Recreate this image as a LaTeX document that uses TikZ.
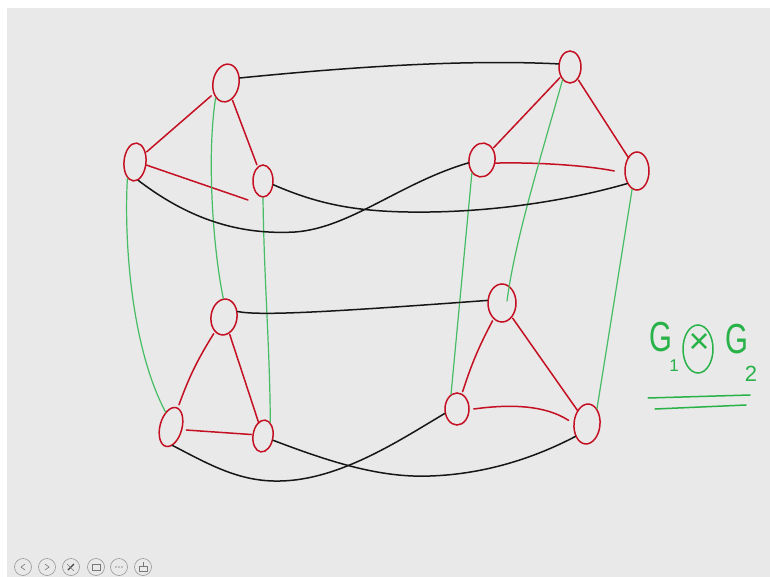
\documentclass[tikz,border=0pt]{standalone}
\usepackage{fontspec}
\setmainfont{Liberation Sans}
\usetikzlibrary{shapes.geometric}

\definecolor{board}{RGB}{233,233,233}
\definecolor{inkred}{RGB}{196,16,34}
\definecolor{inkgreen}{RGB}{70,188,100}
\definecolor{inkblack}{RGB}{22,22,22}
\definecolor{penGreen}{RGB}{40,178,72}
\definecolor{iconGray}{RGB}{150,150,150}

\begin{document}
\begin{tikzpicture}[x=1pt,y=-1pt,
  vtx/.style={ellipse, draw=inkred, line width=1.5pt, inner sep=0pt},
  redge/.style={draw=inkred, line width=1.5pt, line cap=round},
  gedge/.style={draw=inkgreen, line width=1.2pt, line cap=round},
  bedge/.style={draw=inkblack, line width=1.5pt, line cap=round},
  lbl/.style={text=penGreen, inner sep=0pt},
  uline/.style={draw=penGreen, line width=1.5pt, line cap=round},
  icon/.style={circle, draw=iconGray, line width=0.6pt, minimum size=17pt, inner sep=0pt},
  glyph/.style={draw=iconGray!80!black, line width=0.6pt}
]
% board
\useasboundingbox (0,0) rectangle (770,577);
\fill[white] (0,0) rectangle (770,577);
\fill[board] (7,8) rectangle (770,577);

% upper-left triangle
\node[vtx, minimum width=26pt, minimum height=38pt, rotate=-10] (A1) at (226,83) {};
\node[vtx, minimum width=22pt, minimum height=38pt, rotate=-5] (B1) at (135,162) {};
\node[vtx, minimum width=20pt, minimum height=32pt] (C1) at (263,181) {};
% upper-right triangle
\node[vtx, minimum width=22pt, minimum height=32pt] (A2) at (570,67) {};
\node[vtx, minimum width=26pt, minimum height=34pt, rotate=-8] (B2) at (482,160) {};
\node[vtx, minimum width=24pt, minimum height=38pt] (C2) at (637,171) {};
% lower-left triangle
\node[vtx, minimum width=26pt, minimum height=36pt, rotate=-8] (A3) at (224,317) {};
\node[vtx, minimum width=22pt, minimum height=40pt, rotate=-15] (B3) at (171,427) {};
\node[vtx, minimum width=20pt, minimum height=32pt, rotate=-8] (C3) at (263,436) {};
% lower-right triangle
\node[vtx, minimum width=28pt, minimum height=38pt] (A4) at (502,303) {};
\node[vtx, minimum width=24pt, minimum height=32pt] (B4) at (457,409) {};
\node[vtx, minimum width=26pt, minimum height=40pt, rotate=-5] (C4) at (587,424) {};

% free ends of strokes that stop short of a vertex
\coordinate (C1miss) at (248,200);
\coordinate (A4tip) at (507,301);

% red triangle edges
\draw[redge, shorten <=3pt, shorten >=1pt] (A1) -- (B1);
\draw[redge, shorten <=1pt, shorten >=2pt] (A1) -- (C1);
\draw[redge] (B1.-10) -- (C1miss);

\draw[redge, shorten <=1pt, shorten >=1pt] (A2) -- (B2);
\draw[redge, shorten <=1pt, shorten >=-1pt] (A2) -- (C2);
\draw[redge] (B2.-5) .. controls (540,162) and (590,166) .. ([xshift=-10pt]C2.west);

\draw[redge, shorten <=2pt, shorten >=3pt] (A3) to[bend right=6] (B3);
\draw[redge, shorten <=1pt, shorten >=-1pt] (A3) -- (C3);
\draw[redge] ([xshift=4pt]B3.east) -- ([xshift=-1pt]C3.west);

\draw[redge, shorten <=2pt, shorten >=2pt] (A4) to[bend right=5] (B4);
\draw[redge, shorten <=1pt, shorten >=-1pt] (A4) -- (C4);
\draw[redge] ([xshift=4pt]B4.east) .. controls (510,404) and (545,405) .. ([xshift=-5pt]C4.170);

% green edges between the two copies
\draw[gedge] (B1.-110) .. controls (124,235) and (130,345) .. (B3.125);
\draw[gedge] (A1.-115) .. controls (206,160) and (214,255) .. (A3.100);
\draw[gedge] (C1.-90) .. controls (264,280) and (270,350) .. (C3.70);
\draw[gedge] (A2.-120) .. controls (540,160) and (515,240) .. (A4tip);
\draw[gedge] (B2.-120) -- (B4.112);
\draw[gedge] (C2.-105) -- (C4.62);

% black edges between the two copies
\draw[bedge] (A1.30) .. controls (340,68) and (460,59) .. (A2.165);
\draw[bedge] (B1.-75) .. controls (190,220) and (240,235) .. (295,232)
             .. controls (350,228) and (400,183) .. (B2.200);
\draw[bedge] (C1.-20) .. controls (320,205) and (360,213) .. (430,212)
             .. controls (500,211) and (570,200) .. (C2.232);
\draw[bedge] (A3.30) .. controls (260,316) and (330,312) .. (A4.170);
\draw[bedge] (B3.-70) .. controls (210,465) and (240,482) .. (280,481)
             .. controls (340,480) and (400,440) .. (B4.200);
\draw[bedge] (C3.-15) .. controls (330,462) and (380,478) .. (430,476)
             .. controls (490,474) and (540,455) .. (C4.232);

% product label
\node[lbl, font=\fontsize{42}{42}\selectfont, xscale=0.7] (G1) at (661,337) {G};
\node[lbl, font=\fontsize{17}{17}\selectfont] (s1) at (674,366) {1};
\node[ellipse, draw=penGreen, line width=1.5pt, minimum width=30pt, minimum height=48pt,
      inner sep=0pt, text=penGreen] (otimes) at (698,349) {};
\node[lbl, font=\fontsize{36}{36}\selectfont] (cross) at (699,343) {×};
\node[lbl, font=\fontsize{42}{42}\selectfont, xscale=0.7] (G2) at (737,339) {G};
\node[lbl, font=\fontsize{22}{22}\selectfont] (s2) at (751,374) {2};
\draw[uline] (648,398) -- (750,395);
\draw[uline] (655,409) -- (746,405);

% presentation toolbar
\node[icon] (ib1) at (23,567) {};
\node[icon] (ib2) at (47,567) {};
\node[icon] (ib3) at (71,567) {};
\node[icon] (ib4) at (96,567) {};
\node[icon] (ib5) at (119,567) {};
\node[icon] (ib6) at (143,567) {};
\draw[glyph] ([xshift=2pt,yshift=3pt]ib1.center) -- ([xshift=-2pt]ib1.center) -- ([xshift=2pt,yshift=-3pt]ib1.center);
\draw[glyph] ([xshift=-2pt,yshift=3pt]ib2.center) -- ([xshift=2pt]ib2.center) -- ([xshift=-2pt,yshift=-3pt]ib2.center);
\draw[draw=black!75, line width=1.3pt] ([xshift=-3pt,yshift=-3pt]ib3.center) -- ([xshift=3pt,yshift=3pt]ib3.center);
\draw[glyph] ([xshift=-4pt,yshift=3pt]ib3.center) -- ([xshift=3pt,yshift=-4pt]ib3.center);
\draw[glyph] ([xshift=-4pt,yshift=-3pt]ib4.center) rectangle ([xshift=4pt,yshift=3pt]ib4.center);
\foreach \dx in {-3,0,3} \fill[iconGray] ([xshift=\dx pt]ib5.center) circle (0.8pt);
\draw[glyph] ([xshift=-4pt,yshift=-4pt]ib6.center) rectangle ([xshift=4pt,yshift=1pt]ib6.center);
\draw[glyph] ([yshift=1pt]ib6.center) -- ([yshift=5pt]ib6.center);
\end{tikzpicture}
\end{document}
